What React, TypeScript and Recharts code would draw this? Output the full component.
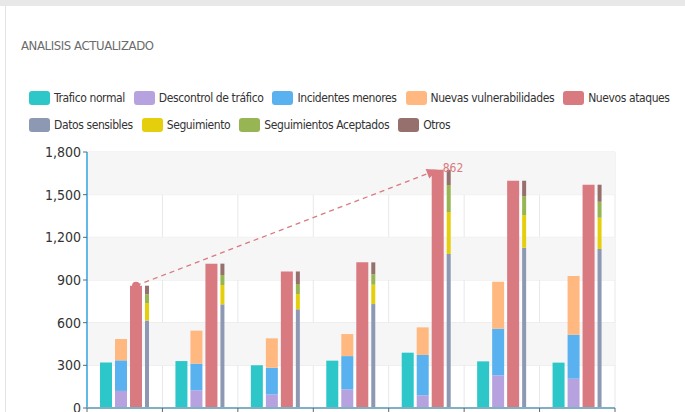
import React from "react";
import {
  BarChart,
  Bar,
  XAxis,
  YAxis,
  CartesianGrid,
  ReferenceArea,
  ReferenceLine,
} from "recharts";

// categories fall below the visible crop; weekday names are a guess
const categories = ["Lunes", "Martes", "Miércoles", "Jueves", "Viernes", "Sábado", "Domingo"];

const traficoNormal = [320, 330, 300, 333, 389, 328, 319];
const descontrol = [120, 125, 95, 131, 89, 230, 206];
const incidentes = [215, 187, 188, 234, 284, 328, 309];
const vulnerabilidades = [150, 232, 207, 155, 194, 330, 413];
const nuevosAtaques = [860, 1015, 960, 1024, 1675, 1598, 1570];
const datosSensibles = [615, 729, 694, 731, 1083, 1127, 1118];
const seguimiento = [123, 136, 107, 136, 295, 230, 220];
const aceptados = [61, 70, 71, 73, 190, 133, 112];
const otros = [61, 80, 88, 84, 107, 108, 120];

const yTicks = [0, 300, 600, 900, 1200, 1500, 1800];

// markLine from the first to the fifth "Nuevos ataques" bar
const trendFrom = 0;
const trendTo = 4;
const trendLabel = "862";

const series = [
  { key: "traficoNormal", name: "Trafico normal", color: "#2ec7c9", stack: "a", thin: false },
  { key: "descontrol", name: "Descontrol de tráfico", color: "#b6a2de", stack: "b", thin: false },
  { key: "incidentes", name: "Incidentes menores", color: "#5ab1ef", stack: "b", thin: false },
  { key: "vulnerabilidades", name: "Nuevas vulnerabilidades", color: "#ffb980", stack: "b", thin: false },
  { key: "nuevosAtaques", name: "Nuevos ataques", color: "#d87a80", stack: "c", thin: false },
  { key: "datosSensibles", name: "Datos sensibles", color: "#8d98b3", stack: "d", thin: true },
  { key: "seguimiento", name: "Seguimiento", color: "#e5cf0d", stack: "d", thin: true },
  { key: "aceptados", name: "Seguimientos Aceptados", color: "#97b552", stack: "d", thin: true },
  { key: "otros", name: "Otros", color: "#95706d", stack: "d", thin: true },
];

const chartData = categories.map((name, i) => ({
  name,
  traficoNormal: traficoNormal[i],
  descontrol: descontrol[i],
  incidentes: incidentes[i],
  vulnerabilidades: vulnerabilidades[i],
  nuevosAtaques: nuevosAtaques[i],
  datosSensibles: datosSensibles[i],
  seguimiento: seguimiento[i],
  aceptados: aceptados[i],
  otros: otros[i],
}));

const FONT = "'DejaVu Sans Condensed', 'DejaVu Sans', sans-serif";

const CHART_W = 685;
const CHART_H = 440;
const MARGIN = { top: 152, right: 70, bottom: 0, left: 0 };
const Y_AXIS_W = 87;
const X_AXIS_H = 32;
const plotLeft = MARGIN.left + Y_AXIS_W;
const plotWidth = CHART_W - plotLeft - MARGIN.right;
const band = plotWidth / categories.length;

const WIDE = 12;
const THIN = 4;
const GAP = 3;
// where the red bar sits relative to the band centre (same maths as recharts bar layout)
const groupWidth = WIDE * 3 + THIN + GAP * 3;
const groupOffset = Math.floor((band - groupWidth) / 2);
const redShift = groupOffset + 2 * (WIDE + GAP) + WIDE / 2 - band / 2;

const TrendArrow = (props: any) => {
  const { x1, y1, x2, y2 } = props;
  const ax = x1 + redShift;
  const bx = x2 + redShift;
  const ang = Math.atan2(y2 - y1, bx - ax);
  const cos = Math.cos(ang);
  const sin = Math.sin(ang);
  const len = 11;
  const half = 5;
  const baseX = bx - len * cos;
  const baseY = y2 - len * sin;
  const pts = [
    `${bx},${y2}`,
    `${baseX + half * sin},${baseY - half * cos}`,
    `${baseX - half * sin},${baseY + half * cos}`,
  ].join(" ");
  return (
    <g>
      <circle cx={ax} cy={y1} r={4} fill="#d87a80" />
      <line
        x1={ax}
        y1={y1}
        x2={baseX}
        y2={baseY}
        stroke="#d87a80"
        strokeWidth={1.3}
        strokeDasharray="5 4"
      />
      <polygon points={pts} fill="#d87a80" />
      <text x={bx + 5} y={y2 + 2} fill="#d87a80" fontSize={12} fontFamily={FONT}>
        {trendLabel}
      </text>
    </g>
  );
};

// only the boundary tick marks are inside the crop, the labels sit below it
const BoundaryTick = (props: any) => {
  const { x, y, index } = props;
  const axisY = y - 7;
  const left = x - band / 2;
  return (
    <g>
      <line x1={left} y1={axisY} x2={left} y2={axisY + 5} stroke="#666" />
      {index === categories.length - 1 && (
        <line x1={left + band} y1={axisY} x2={left + band} y2={axisY + 5} stroke="#666" />
      )}
    </g>
  );
};

const Legend = () => (
  <div
    style={{
      position: "absolute",
      left: 29,
      top: 91,
      width: 665,
      display: "flex",
      flexWrap: "wrap",
      columnGap: 9,
      rowGap: 13,
    }}
  >
    {series.map((s) => (
      <div key={s.key} style={{ display: "flex", alignItems: "center", height: 14 }}>
        <span
          style={{
            width: 21,
            height: 14,
            borderRadius: 3,
            background: s.color,
            marginRight: 4,
            display: "inline-block",
          }}
        />
        <span
          style={{
            fontSize: 12,
            letterSpacing: -0.4,
            lineHeight: "14px",
            color: "#333",
            whiteSpace: "nowrap",
          }}
        >
          {s.name}
        </span>
      </div>
    ))}
  </div>
);

export default function App() {
  const shadedBands = yTicks
    .slice(1)
    .map((top, i) => [yTicks[i], top])
    .filter((_, i) => i % 2 === 1);

  return (
    <div
      style={{
        position: "absolute",
        left: 0,
        top: 0,
        width: 685,
        height: 412,
        overflow: "hidden",
        background: "#fff",
        fontFamily: FONT,
      }}
    >
      <div style={{ position: "absolute", left: 0, top: 0, width: 685, height: 6, background: "#e8e8e8" }} />
      <div style={{ position: "absolute", left: 5, top: 6, width: 1, height: 406, background: "#e2e2e2" }} />
      <div
        style={{
          position: "absolute",
          left: 21,
          top: 38,
          fontSize: 13,
          letterSpacing: -0.4,
          lineHeight: "16px",
          color: "#6b6b6b",
        }}
      >
        ANALISIS ACTUALIZADO
      </div>
      <Legend />
      <div style={{ position: "absolute", left: 0, top: 0 }}>
        <BarChart
          width={CHART_W}
          height={CHART_H}
          data={chartData}
          margin={MARGIN}
          barGap={GAP}
          style={{ fontFamily: FONT }}
        >
          {shadedBands.map(([lo, hi]) => (
            <ReferenceArea key={lo} y1={lo} y2={hi} fill="#f6f6f6" fillOpacity={1} stroke="none" />
          ))}
          <CartesianGrid
            stroke="#e8e8e8"
            verticalCoordinatesGenerator={() =>
              Array.from({ length: categories.length + 1 }, (_, i) => plotLeft + i * band)
            }
          />
          <XAxis
            dataKey="name"
            height={X_AXIS_H}
            tickLine={false}
            tickSize={5}
            interval={0}
            axisLine={{ stroke: "#7fb0c4", strokeWidth: 2 }}
            tick={<BoundaryTick />}
          />
          <YAxis
            width={Y_AXIS_W}
            domain={[0, 1800]}
            ticks={yTicks}
            interval={0}
            tickSize={4}
            tickLine={{ stroke: "#666" }}
            axisLine={{ stroke: "#62b8e6", strokeWidth: 2 }}
            tick={{ fill: "#333", fontSize: 14 }}
            tickFormatter={(v: number) => v.toLocaleString("en-US")}
          />
          {series.map((s) => (
            <Bar
              key={s.key}
              dataKey={s.key}
              name={s.name}
              stackId={s.stack}
              fill={s.color}
              barSize={s.thin ? THIN : WIDE}
              isAnimationActive={false}
            />
          ))}
          <ReferenceLine
            segment={[
              { x: categories[trendFrom], y: nuevosAtaques[trendFrom] },
              { x: categories[trendTo], y: nuevosAtaques[trendTo] },
            ]}
            ifOverflow="visible"
            shape={<TrendArrow />}
          />
        </BarChart>
      </div>
    </div>
  );
}
